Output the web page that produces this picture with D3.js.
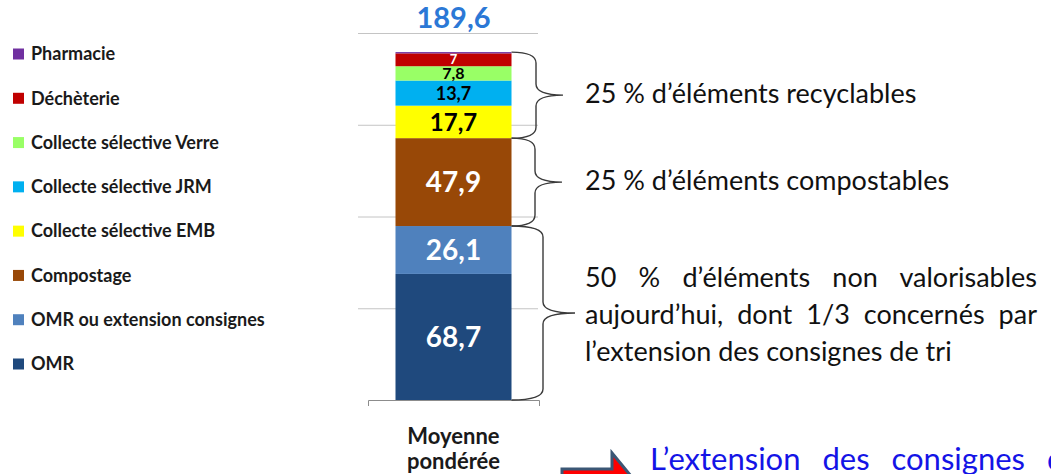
<!DOCTYPE html>
<html>
<head>
<meta charset="utf-8">
<title>Moyenne pondérée</title>
<script src="https://d3js.org/d3.v7.min.js"></script>
<style>
  body { margin: 0; background: #fff; }
  svg { display: block; font-family: Lato, "Open Sans", sans-serif; }
  .legend text { font-size: 18px; font-weight: bold; fill: #1a1a1a; }
  .note { font-size: 27px; fill: #111; }
</style>
</head>
<body>
<div id="chart"></div>
<script>
// donnees
const categories = ["Moyenne pondérée"];
const seriesNames = ["OMR", "OMR ou extension consignes", "Compostage", "Collecte sélective EMB",
  "Collecte sélective JRM", "Collecte sélective Verre", "Déchèterie", "Pharmacie"];
const seriesValues = [68.7, 26.1, 47.9, 17.7, 13.7, 7.8, 7.0, 0.7];
const gridTicks = [50, 100, 150, 200];
const groups = [
  { text: "25 % d’éléments recyclables", from: 3, to: 7 },
  { text: "25 % d’éléments compostables", from: 2, to: 2 },
  { text: ["50 % d’éléments non valorisables", "aujourd’hui, dont 1/3 concernés par", "l’extension des consignes de tri"], from: 0, to: 1 }
];
const bottomNote = "L’extension des consignes de tri";

// styles
const colors = ["#1F497D", "#4F81BD", "#984807", "#FFFF00", "#00B0F0", "#99FF66", "#C00000", "#7030A0"];
const labelStyle = [
  { size: 28, fill: "#fff" }, { size: 28, fill: "#fff" }, { size: 28, fill: "#fff" },
  { size: 24, fill: "#000" }, { size: 18, fill: "#000" }, { size: 16, fill: "#000" },
  { size: 13, fill: "#fff" }, null
];

const W = 1051, H = 474;
const svg = d3.select("#chart").append("svg").attr("width", W).attr("height", H);

const y = d3.scaleLinear().domain([0, 200]).range([400, 33]);
const x = d3.scaleBand().domain(categories).range([368, 539]).paddingInner(0).paddingOuter(0.237);

const fmt = v => String(v).replace(".", ",");

// stack
let acc = 0;
const stacked = seriesValues.map((v, i) => {
  const d = { name: seriesNames[i], value: v, y0: acc, y1: acc + v, i };
  acc += v;
  return d;
});
const total = Math.round(acc * 10) / 10;

// quadrillage
svg.append("g")
  .attr("transform", "translate(358,0)")
  .call(d3.axisLeft(y).tickValues(gridTicks).tickSize(-180).tickFormat(""))
  .call(g => g.select(".domain").remove())
  .call(g => g.selectAll("line").attr("stroke", "#c4c4c4"));

// axe x
svg.append("g")
  .attr("transform", `translate(0,${y(0)})`)
  .call(d3.axisBottom(x).tickSizeInner(0).tickSizeOuter(6).tickFormat(""))
  .call(g => g.select(".domain").attr("stroke", "#8c8c8c"));

const cx = x(categories[0]) + x.bandwidth() / 2;

svg.append("text")
  .attr("x", cx).attr("text-anchor", "middle")
  .attr("font-size", 22).attr("font-weight", "bold").attr("fill", "#1a1a1a")
  .selectAll("tspan")
  .data(["Moyenne", "pondérée"])
  .join("tspan")
  .attr("x", cx)
  .attr("y", (d, i) => 444 + i * 25)
  .text(d => d);

// barres
svg.append("g").selectAll("rect")
  .data(stacked)
  .join("rect")
  .attr("x", x(categories[0]))
  .attr("width", x.bandwidth())
  .attr("y", d => y(d.y1))
  .attr("height", d => y(d.y0) - y(d.y1))
  .attr("fill", d => colors[d.i]);

// etiquettes
svg.append("g").selectAll("text")
  .data(stacked.filter(d => labelStyle[d.i]))
  .join("text")
  .attr("x", cx)
  .attr("y", d => (y(d.y0) + y(d.y1)) / 2)
  .attr("dy", "0.36em")
  .attr("text-anchor", "middle")
  .attr("font-weight", "bold")
  .attr("font-size", d => labelStyle[d.i].size)
  .attr("fill", d => labelStyle[d.i].fill)
  .text(d => fmt(d.value));

svg.append("text")
  .attr("x", cx).attr("y", y(total) - 24)
  .attr("text-anchor", "middle")
  .attr("font-size", 29).attr("font-weight", "bold").attr("fill", "#2B78D6")
  .text(fmt(total));

// legende
const ly = d3.scalePoint().domain(seriesNames.slice().reverse()).range([54, 364]);
const leg = svg.append("g").attr("class", "legend").selectAll("g")
  .data(seriesNames.map((n, i) => ({ n, i })))
  .join("g")
  .attr("transform", d => `translate(13,${ly(d.n)})`);
leg.append("rect").attr("y", -5.5).attr("width", 11).attr("height", 11).attr("fill", d => colors[d.i]);
leg.append("text").attr("x", 18).attr("dy", "0.35em").text(d => d.n);

// accolades
function brace(x0, yTop, yBot, spine, tip) {
  const r = 11, ym = (yTop + yBot) / 2;
  return `M${x0},${yTop} Q${spine},${yTop} ${spine},${yTop + r} L${spine},${ym - r} Q${spine},${ym} ${tip},${ym}` +
    ` M${tip},${ym} Q${spine},${ym} ${spine},${ym + r} L${spine},${yBot - r} Q${spine},${yBot} ${x0},${yBot}`;
}
const barRight = x(categories[0]) + x.bandwidth();
const braceGeom = [{ spine: 536, tip: 563 }, { spine: 535, tip: 562 }, { spine: 543, tip: 575 }];

groups.forEach((g, k) => {
  const yTop = y(stacked[g.to].y1), yBot = y(stacked[g.from].y0);
  const b = braceGeom[k];
  svg.append("path")
    .attr("d", brace(barRight, yTop, yBot, b.spine, b.tip))
    .attr("fill", "none").attr("stroke", "#3a3a3a").attr("stroke-width", 1.4);
  const ym = (yTop + yBot) / 2;
  if (typeof g.text === "string") {
    svg.append("text").attr("class", "note")
      .attr("x", 585).attr("y", ym - 2).attr("dy", "0.35em").text(g.text);
  } else {
    g.text.forEach((line, li) => {
      const t = svg.append("text").attr("class", "note")
        .attr("x", 585).attr("y", ym - 35 + li * 37).attr("dy", "0.35em").text(line);
      if (li < g.text.length - 1) {
        const gaps = line.split(" ").length - 1;
        const w = t.node().getComputedTextLength();
        t.attr("word-spacing", (1037 - 585 - w) / gaps);
      }
    });
  }
});

// fleche
svg.append("polygon")
  .attr("points", "562,469 612,469 612,453 640,487 612,521 612,505 562,505")
  .attr("fill", "#FF0000").attr("stroke", "#3B5775").attr("stroke-width", 3);

svg.append("text")
  .attr("x", 650).attr("y", 470)
  .attr("font-size", 31).attr("fill", "#1414E6")
  .attr("word-spacing", 14)
  .text(bottomNote);
</script>
</body>
</html>
